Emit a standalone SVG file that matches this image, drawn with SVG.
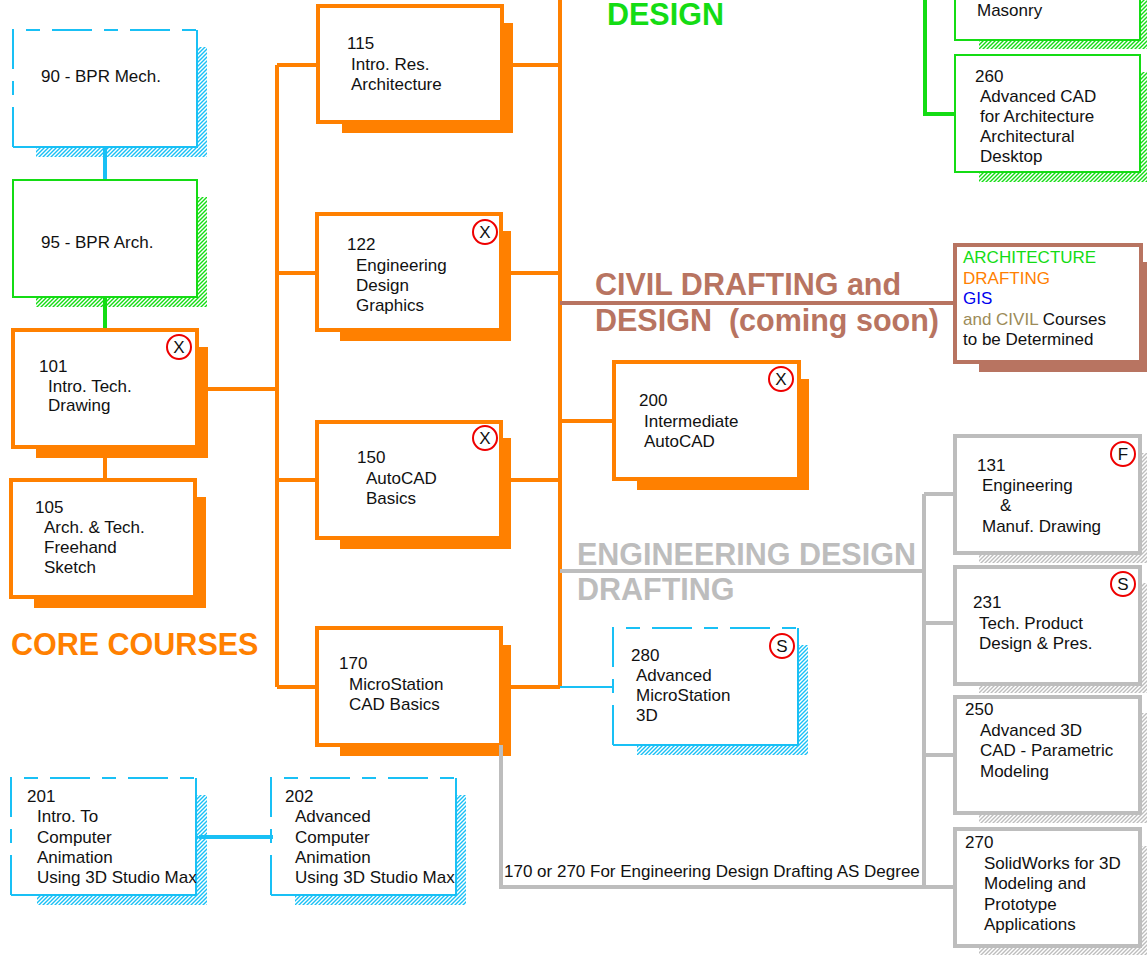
<svg xmlns="http://www.w3.org/2000/svg" width="1147" height="955" viewBox="0 0 1147 955">
<defs>
<pattern id="hc" width="4" height="4" patternUnits="userSpaceOnUse"><path d="M-1,1 L1,-1 M0,4 L4,0 M3,5 L5,3" stroke="#19c0f5" stroke-width="1.4"/></pattern>
<pattern id="hg" width="4" height="4" patternUnits="userSpaceOnUse"><path d="M-1,1 L1,-1 M0,4 L4,0 M3,5 L5,3" stroke="#14dc14" stroke-width="1.4"/></pattern>
<pattern id="hy" width="4" height="4" patternUnits="userSpaceOnUse"><path d="M-1,1 L1,-1 M0,4 L4,0 M3,5 L5,3" stroke="#bdbdbd" stroke-width="1.4"/></pattern>
<marker id="arr" markerWidth="8" markerHeight="8" refX="1" refY="4" orient="auto" markerUnits="userSpaceOnUse"><path d="M8,0 L0,4 L8,8 Z" fill="#19c0f5"/></marker>
</defs>
<style>
text{font-family:"Liberation Sans",Arial,Helvetica,sans-serif;font-size:17px;fill:#111}
.big{font-size:30.5px;font-weight:bold}
.bx{fill:#fff}
.or{stroke:#ff8000;stroke-width:4}
.gr{stroke:#bdbdbd;stroke-width:4}
.gn{stroke:#14dc14;stroke-width:2}
.cy{stroke:#19c0f5;stroke-width:2;fill:none}
.br{stroke:#b87461;stroke-width:4}
.so{fill:#ff8000}
.sb{fill:#b87461}
.sc{fill:url(#hc)}
.sg{fill:url(#hg)}
.sy{fill:url(#hy)}
.dash{stroke-dasharray:40 12 14 12}
.mk circle{fill:#fff;stroke:#e00;stroke-width:2}
.mk text{text-anchor:middle}
.cn{fill:none;stroke-width:4}
</style>

<g id="connectors">
<path class="cn" d="M560,0 V687 M277,65 V687 M277,65 H318 M512,65 H560 M277,273 H317 M510,273 H560 M277,480 H317 M510,480 H560 M277,687 H317 M510,687 H560 M207,389 H277 M105,447 V480 M560,421 H614" stroke="#ff8000"/>
<path class="cn" d="M105,147 V180" stroke="#19c0f5"/>
<path class="cn" d="M105,297 V330" stroke="#14dc14"/>
<path class="cn" d="M925,0 V114 H955" stroke="#14dc14"/>
<path class="cn" d="M560,303 H955" stroke="#b87461"/>
<path class="cn" d="M560,571 H924 M924,494 V888 M924,494 H955 M924,623 H955 M924,755 H955 M501,745 V887 H955" stroke="#bdbdbd"/>
<path fill="none" stroke="#19c0f5" stroke-width="2" d="M560,687 H613"/>
<path fill="none" stroke="#19c0f5" stroke-width="4" d="M273,837 H199" marker-end="url(#arr)"/>
<text x="504" y="877">170 or 270 For Engineering Design Drafting AS Degree</text>
</g>

<g id="headings">
<text class="big" x="607" y="25" style="fill:#14dc14">DESIGN</text>
<text class="big" x="595" y="295" style="fill:#b87461">CIVIL DRAFTING and</text>
<text class="big" x="595" y="331" style="fill:#b87461" xml:space="preserve">DESIGN  (coming soon)</text>
<text class="big" x="11" y="655" style="fill:#ff8000">CORE COURSES</text>
<text class="big" x="577" y="565" style="fill:#bdbdbd">ENGINEERING DESIGN</text>
<text class="big" x="577" y="600" style="fill:#bdbdbd">DRAFTING</text>
</g>

<g id="n90">
<rect class="sc" x="36" y="47" width="171" height="110"/>
<rect class="bx" x="13" y="30" width="184" height="117"/>
<path class="cy" d="M197,30 V147 H13"/>
<path class="cy dash" d="M13,147 V30 H197"/>
<text x="41" y="82">90 - BPR Mech.</text>
</g>

<g id="n95">
<rect class="sg" x="36" y="197" width="171" height="110"/>
<rect class="bx gn" x="13" y="180" width="184" height="117"/>
<text x="41" y="248">95 - BPR Arch.</text>
</g>

<g id="n101">
<rect class="so" x="36" y="347" width="172" height="111"/>
<rect class="bx or" x="13" y="330" width="184" height="117"/>
<g class="mk"><circle cx="179" cy="347" r="12"/><text x="179" y="353">X</text></g>
<text x="39" y="372">101</text>
<text x="48" y="392">Intro. Tech.</text>
<text x="48" y="411">Drawing</text>
</g>

<g id="n105">
<rect class="so" x="34" y="497" width="172" height="111"/>
<rect class="bx or" x="11" y="480" width="184" height="117"/>
<text x="35" y="513">105</text>
<text x="44" y="533">Arch. &amp; Tech.</text>
<text x="44" y="553">Freehand</text>
<text x="44" y="573">Sketch</text>
</g>

<g id="n115">
<rect class="so" x="342" y="23" width="171" height="110"/>
<rect class="bx or" x="318" y="6" width="184" height="116"/>
<text x="347" y="49">115</text>
<text x="351" y="70">Intro. Res.</text>
<text x="351" y="90">Architecture</text>
</g>

<g id="n122">
<rect class="so" x="340" y="231" width="171" height="110"/>
<rect class="bx or" x="317" y="214" width="184" height="116"/>
<g class="mk"><circle cx="485" cy="232" r="12"/><text x="485" y="238">X</text></g>
<text x="347" y="250">122</text>
<text x="356" y="271">Engineering</text>
<text x="356" y="291">Design</text>
<text x="356" y="311">Graphics</text>
</g>

<g id="n150">
<rect class="so" x="340" y="438" width="171" height="111"/>
<rect class="bx or" x="317" y="422" width="184" height="116"/>
<g class="mk"><circle cx="485" cy="438" r="12"/><text x="485" y="444">X</text></g>
<text x="357" y="463">150</text>
<text x="366" y="484">AutoCAD</text>
<text x="366" y="504">Basics</text>
</g>

<g id="n170">
<rect class="so" x="340" y="645" width="171" height="111"/>
<rect class="bx or" x="317" y="628" width="184" height="117"/>
<text x="339" y="669">170</text>
<text x="349" y="690">MicroStation</text>
<text x="349" y="710">CAD Basics</text>
</g>

<g id="n200">
<rect class="so" x="637" y="379" width="172" height="111"/>
<rect class="bx or" x="614" y="362" width="185" height="117"/>
<g class="mk"><circle cx="781" cy="379" r="12"/><text x="781" y="385">X</text></g>
<text x="639" y="406">200</text>
<text x="644" y="427">Intermediate</text>
<text x="644" y="447">AutoCAD</text>
</g>

<g id="n280">
<rect class="sc" x="637" y="645" width="171" height="110"/>
<rect class="bx" x="613" y="628" width="185" height="117"/>
<path class="cy" d="M798,628 V745 H613"/>
<path class="cy dash" d="M613,745 V628 H798"/>
<g class="mk"><circle cx="782" cy="646" r="12"/><text x="782" y="652">S</text></g>
<text x="631" y="661">280</text>
<text x="636" y="681">Advanced</text>
<text x="636" y="701">MicroStation</text>
<text x="636" y="721">3D</text>
</g>

<g id="civil">
<rect class="sb" x="979" y="262" width="172" height="110"/>
<rect class="bx br" x="955" y="245" width="186" height="117"/>
<text x="963" y="263" style="fill:#14dc14">ARCHITECTURE</text>
<text x="963" y="284" style="fill:#ff8000">DRAFTING</text>
<text x="963" y="304" style="fill:#0000ee">GIS</text>
<text x="963" y="325"><tspan style="fill:#9c8b58">and CIVIL</tspan> Courses</text>
<text x="963" y="345">to be Determined</text>
</g>

<g id="masonry">
<rect class="sg" x="979" y="-60" width="172" height="109"/>
<rect class="bx gn" x="955" y="-80" width="185" height="120"/>
<text x="977" y="16">Masonry</text>
</g>

<g id="n260">
<rect class="sg" x="979" y="72" width="172" height="110"/>
<rect class="bx gn" x="955" y="55" width="185" height="117"/>
<text x="975" y="82">260</text>
<text x="980" y="102">Advanced CAD</text>
<text x="980" y="122">for Architecture</text>
<text x="980" y="142">Architectural</text>
<text x="980" y="162">Desktop</text>
</g>

<g id="n131">
<rect class="sy" x="979" y="453" width="172" height="110"/>
<rect class="bx gr" x="955" y="436" width="185" height="117"/>
<g class="mk"><circle cx="1123" cy="454" r="12"/><text x="1123" y="460">F</text></g>
<text x="977" y="471">131</text>
<text x="982" y="491">Engineering</text>
<text x="1000" y="511">&amp;</text>
<text x="982" y="532">Manuf. Drawing</text>
</g>

<g id="n231">
<rect class="sy" x="979" y="583" width="172" height="110"/>
<rect class="bx gr" x="955" y="567" width="185" height="117"/>
<g class="mk"><circle cx="1123" cy="584" r="12"/><text x="1123" y="590">S</text></g>
<text x="973" y="608">231</text>
<text x="979" y="629">Tech. Product</text>
<text x="979" y="649">Design &amp; Pres.</text>
</g>

<g id="n250">
<rect class="sy" x="979" y="713" width="172" height="110"/>
<rect class="bx gr" x="955" y="697" width="185" height="116"/>
<text x="965" y="715">250</text>
<text x="980" y="736">Advanced 3D</text>
<text x="980" y="756">CAD - Parametric</text>
<text x="980" y="777">Modeling</text>
</g>

<g id="n270">
<rect class="sy" x="979" y="846" width="172" height="110"/>
<rect class="bx gr" x="955" y="829" width="185" height="117"/>
<text x="965" y="848">270</text>
<text x="984" y="869">SolidWorks for 3D</text>
<text x="984" y="889">Modeling and</text>
<text x="984" y="910">Prototype</text>
<text x="984" y="930">Applications</text>
</g>

<g id="n201">
<rect class="sc" x="37" y="795" width="170" height="110"/>
<rect class="bx" x="11" y="778" width="185" height="117"/>
<path class="cy" d="M196,778 V895 H11"/>
<path class="cy dash" d="M11,895 V778 H196"/>
<text x="27" y="802">201</text>
<text x="37" y="822">Intro. To</text>
<text x="37" y="843">Computer</text>
<text x="37" y="863">Animation</text>
<text x="37" y="883">Using 3D Studio Max</text>
</g>

<g id="n202">
<rect class="sc" x="295" y="795" width="171" height="110"/>
<rect class="bx" x="271" y="778" width="185" height="117"/>
<path class="cy" d="M456,778 V895 H271"/>
<path class="cy dash" d="M271,895 V778 H456"/>
<text x="285" y="802">202</text>
<text x="295" y="822">Advanced</text>
<text x="295" y="843">Computer</text>
<text x="295" y="863">Animation</text>
<text x="295" y="883">Using 3D Studio Max</text>
</g>

<g id="overlay">
<path fill="none" stroke="#bdbdbd" stroke-width="4" d="M501,745 V760"/>
<path fill="none" stroke="#19c0f5" stroke-width="4" d="M273,837 H240"/>
</g>
</svg>
